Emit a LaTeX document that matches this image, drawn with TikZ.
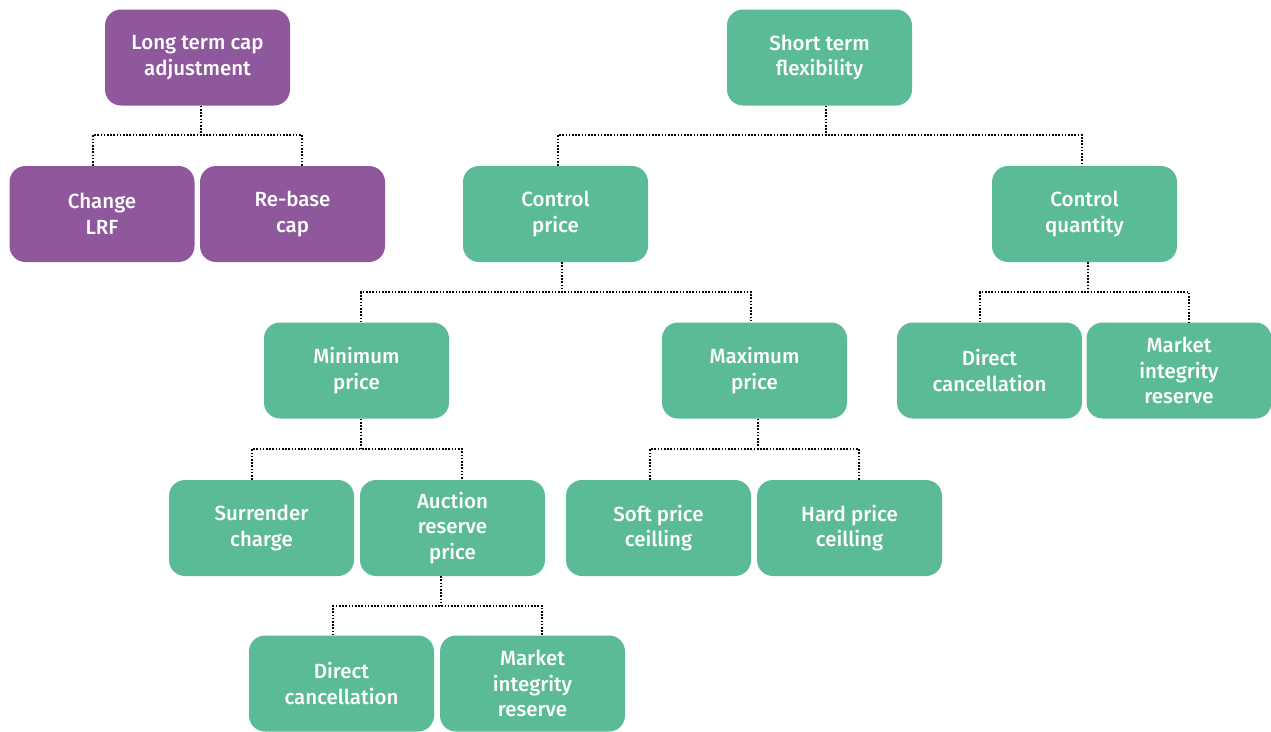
\documentclass[tikz,border=0pt]{standalone}
\usepackage{fontspec}
\setmainfont{Fira Sans Medium}
\definecolor{purp}{RGB}{143,88,157}
\definecolor{grn}{RGB}{92,187,151}
\begin{document}
\begin{tikzpicture}[x=1pt,y=-1pt,
  box/.style={rounded corners=16pt, minimum width=185pt, minimum height=96pt, inner sep=2pt,
    text=white, align=center, font=\fontsize{20.5}{25.5}\selectfont},
  pbox/.style={box, fill=purp},
  gbox/.style={box, fill=grn},
  conn/.style={draw=black, line width=2pt, dash pattern=on 1.6pt off 1.6pt}]
\useasboundingbox (0,0) rectangle (1271,731);
% nodes
\node[pbox] (lt) at (197.5,57.5) {Long term cap\\adjustment};
\node[pbox] (lrf) at (102,214) {Change\\LRF};
\node[pbox] (rb) at (292.5,214) {Re-base\\cap};
\node[gbox] (st) at (819.5,57.5) {Short term\\flexibility};
\node[gbox] (cp) at (555.5,214) {Control\\price};
\node[gbox] (cq) at (1084.5,214) {Control\\quantity};
\node[gbox] (minp) at (356.5,370.5) {Minimum\\price};
\node[gbox] (maxp) at (754.5,370.5) {Maximum\\price};
\node[gbox] (dc1) at (989.5,370.5) {Direct\\cancellation};
\node[gbox] (mir1) at (1179,370.5) {Market\\integrity\\reserve};
\node[gbox] (sc) at (261.5,528) {Surrender\\charge};
\node[gbox] (arp) at (452.5,528) {Auction\\reserve\\price};
\node[gbox] (spc) at (658.5,528) {Soft price\\ceilling};
\node[gbox] (hpc) at (849.5,528) {Hard price\\ceilling};
\node[gbox] (dc2) at (341.5,683.5) {Direct\\cancellation};
\node[gbox] (mir2) at (532.5,683.5) {Market\\integrity\\reserve};
% junctions
\coordinate (j1) at (200.5,135);
\coordinate (j2) at (826,135);
\coordinate (j3) at (562,292);
\coordinate (j4) at (1088,292);
\coordinate (j5) at (361,449);
\coordinate (j6) at (758,449);
\coordinate (j7) at (441,606);
% connectors
\draw[conn] (lt.south -| j1) -- (j1);
\draw[conn] (lrf.north -| 93,0) |- (j1) -| (rb.north -| 302,0);
\draw[conn] (st.south -| j2) -- (j2);
\draw[conn] (cp.north -| 558,0) |- (j2) -| (cq.north -| 1082,0);
\draw[conn] (cp.south -| j3) -- (j3);
\draw[conn] (minp.north -| 361,0) |- (j3) -| (maxp.north -| 751,0);
\draw[conn] (cq.south -| j4) -- (j4);
\draw[conn] (dc1.north -| 980,0) |- (j4) -| (mir1.north -| 1189,0);
\draw[conn] (minp.south -| j5) -- (j5);
\draw[conn] (sc.north -| 252,0) |- (j5) -| (arp.north -| 462,0);
\draw[conn] (maxp.south -| j6) -- (j6);
\draw[conn] (spc.north -| 650,0) |- (j6) -| (hpc.north -| 859,0);
\draw[conn] (arp.south -| j7) -- (j7);
\draw[conn] (dc2.north -| 333,0) |- (j7) -| (mir2.north -| 542,0);
\end{tikzpicture}
\end{document}
